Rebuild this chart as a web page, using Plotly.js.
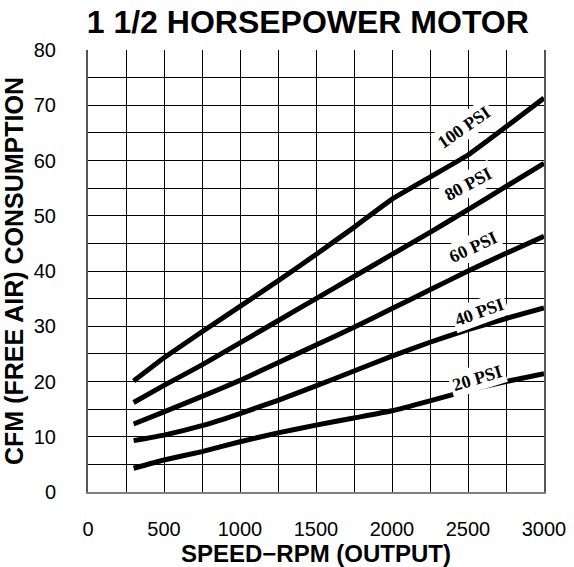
<!DOCTYPE html>
<html>
<head>
<meta charset="utf-8">
<script src="https://cdn.plot.ly/plotly-3.0.1.min.js"></script>
<style>html,body{margin:0;padding:0;background:#fff;}#chart{width:574px;height:567px;}</style>
</head>
<body>
<div id="chart"></div>
<script>
// Speed (RPM) sample points
const rpm = [300, 500, 750, 1000, 1250, 1500, 1750, 2000, 2250, 2500, 2750, 3000];
// CFM consumption per pressure curve
const psi100 = [20.1, 24.3, 29.0, 33.6, 38.2, 43.0, 47.9, 53.0, 57.0, 61.0, 66.1, 71.3];
const psi80  = [16.2, 19.3, 23.0, 27.0, 31.0, 35.0, 39.0, 43.0, 47.0, 51.1, 55.3, 59.5];
const psi60  = [12.3, 14.5, 17.3, 20.2, 23.4, 26.6, 29.8, 33.2, 36.6, 40.0, 43.2, 46.3];
const psi40  = [9.3, 10.3, 12.0, 14.2, 16.6, 19.2, 21.9, 24.6, 27.1, 29.4, 31.4, 33.3];
const psi20  = [4.3, 5.8, 7.3, 9.1, 10.7, 12.1, 13.4, 14.7, 16.5, 18.4, 20.0, 21.4];
const seriesNames = ['100 PSI', '80 PSI', '60 PSI', '40 PSI', '20 PSI'];
// Tick labels
const xTickVals = [0, 250, 500, 750, 1000, 1250, 1500, 1750, 2000, 2250, 2500, 2750, 3000];
const xTickText = ['0', '', '500', '', '1000', '', '1500', '', '2000', '', '2500', '', '3000'];
const yTickVals = [0, 5, 10, 15, 20, 25, 30, 35, 40, 45, 50, 55, 60, 65, 70, 75, 80];
const yTickText = ['0', '', '10', '', '20', '', '30', '', '40', '', '50', '', '60', '', '70', '', '80'];

const allSeries = [psi100, psi80, psi60, psi40, psi20];
const traces = allSeries.map((ys, i) => ({
  x: rpm, y: ys, name: seriesNames[i], type: 'scatter', mode: 'lines',
  line: {color: '#000', width: 5, shape: 'spline', smoothing: 0.3},
  hoverinfo: 'x+y+name'
}));

const labelFont = {family: 'Liberation Serif, Times New Roman, serif', size: 18, color: '#000'};
function lab(text, x, y, ang) {
  return {text: '<b>' + text + '</b>', x: x, y: y, xref: 'x', yref: 'y', showarrow: false,
          textangle: ang, bgcolor: '#fff', borderpad: 2, font: labelFont};
}

const layout = {
  width: 574, height: 567,
  margin: {l: 88, r: 30, t: 50, b: 75},
  paper_bgcolor: '#fff', plot_bgcolor: '#fff',
  showlegend: false,
  font: {family: 'Liberation Sans, Arial, Helvetica, sans-serif', color: '#000'},
  title: {text: '<b>1 1/2 HORSEPOWER MOTOR</b>', font: {size: 32, color: '#000'},
          xref: 'paper', x: 0.482, xanchor: 'center', yref: 'container', y: 0.961, yanchor: 'middle'},
  xaxis: {
    range: [0, 3000], tickvals: xTickVals, ticktext: xTickText,
    showgrid: true, gridcolor: '#000', gridwidth: 1, zeroline: false,
    showline: true, linecolor: '#808080', linewidth: 2, mirror: false,
    ticks: '', ticklabelstandoff: 18, tickfont: {size: 20},
    title: {text: '<b>SPEED\u2212RPM (OUTPUT)</b>', font: {size: 24}, standoff: 6},
    fixedrange: true
  },
  yaxis: {
    range: [0, 80], tickvals: yTickVals, ticktext: yTickText,
    showgrid: true, gridcolor: '#000', gridwidth: 1, zeroline: false,
    showline: true, linecolor: '#555', linewidth: 2, mirror: true,
    ticks: '', ticklabelstandoff: 26, tickfont: {size: 20},
    title: {text: '<b>CFM (FREE AIR) CONSUMPTION</b>', font: {size: 25}, standoff: 4},
    fixedrange: true
  },
  annotations: [
    lab(seriesNames[0], 2476, 66.1, -35),
    lab(seriesNames[1], 2502, 55.7, -28),
    lab(seriesNames[2], 2535, 44.3, -25),
    lab(seriesNames[3], 2574, 32.6, -20),
    lab(seriesNames[4], 2564, 20.6, -17)
  ]
};

Plotly.newPlot('chart', traces, layout, {displayModeBar: false, staticPlot: true});
</script>
</body>
</html>
